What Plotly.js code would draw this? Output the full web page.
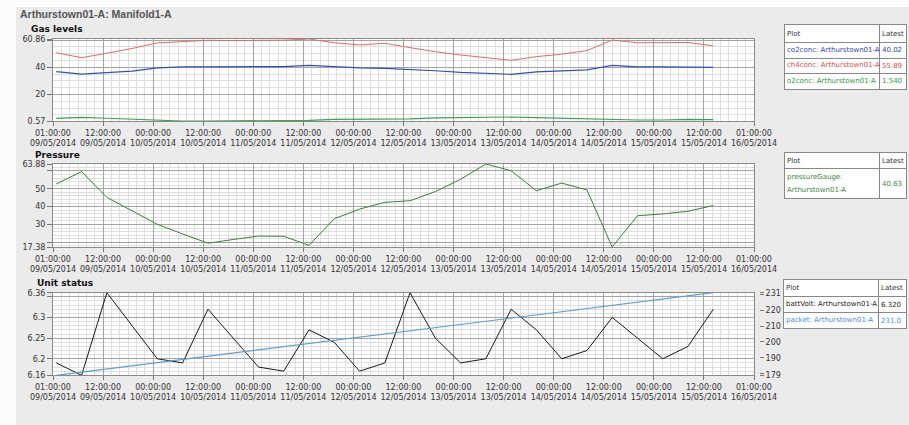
<!DOCTYPE html>
<html>
<head>
<meta charset="utf-8">
<script src="https://cdn.plot.ly/plotly-3.0.1.min.js"></script>
<style>
  html, body { margin:0; padding:0; background:#fbfbfb; }
  #bg { position:absolute; left:16px; top:7px; width:893px; height:418px; background:#ebebeb; }
  #chart { position:absolute; left:0; top:0; width:909px; height:425px; }
  table.lg { position:absolute; border-collapse:collapse; background:#fff; font-family:"DejaVu Sans"; font-size:7px; border:1px solid #333; table-layout:fixed; }
  table.lg td { border:1px solid #888; padding:0 2px; white-space:nowrap; overflow:hidden; }
  table.lg tr.hd td { color:#333; }
</style>
</head>
<body>
<div id="bg"></div>
<div id="chart"></div>
<script>
// ---------- data ----------
const times = ['2014-05-09 01:47','2014-05-09 07:51','2014-05-09 13:54','2014-05-09 19:58','2014-05-10 02:00','2014-05-10 08:04','2014-05-10 14:08','2014-05-10 20:11','2014-05-11 02:14','2014-05-11 08:17','2014-05-11 14:21','2014-05-11 20:24','2014-05-12 02:28','2014-05-12 08:32','2014-05-12 14:34','2014-05-12 20:38','2014-05-13 02:41','2014-05-13 08:44','2014-05-13 14:48','2014-05-13 20:51','2014-05-14 02:55','2014-05-14 08:58','2014-05-14 15:01','2014-05-14 21:05','2014-05-15 03:08','2014-05-15 09:11','2014-05-15 15:14'];

const co2conc = [36.8,35.1,36.1,37.3,39.7,40.4,40.4,40.4,40.4,40.6,41.5,40.3,39.6,39.3,38.5,37.5,36.3,35.5,34.9,36.7,37.3,38.1,41.5,40.4,40.3,40.2,40.02];
const ch4conc = [50.8,47.1,50.4,53.9,58.0,59.0,59.9,59.7,59.7,60.0,60.86,58.1,56.5,57.7,54.5,51.5,49.1,47.0,45.2,47.9,49.7,52.3,60.1,58.1,58.2,58.3,55.89];
const o2conc  = [2.5,3.2,2.6,1.9,0.9,0.57,0.57,0.57,0.57,0.6,1.0,1.8,1.9,2.0,2.2,2.8,3.0,3.5,3.5,3.1,2.6,2.1,1.4,1.3,1.3,1.8,1.54];
const pressureGauge = [52.7,59.6,45.2,37.4,30.1,24.7,19.5,21.6,23.5,23.4,18.3,33.2,38.6,42.4,43.3,48.4,55.3,63.88,60.1,48.9,53.2,49.3,17.38,34.9,35.9,37.4,40.63];
const battVolt = [6.19,6.16,6.36,6.28,6.20,6.19,6.32,6.25,6.18,6.17,6.27,6.24,6.17,6.19,6.36,6.25,6.19,6.20,6.32,6.27,6.20,6.22,6.30,6.25,6.20,6.23,6.32];
const packet = [179,181,183,185,187,189,191,193,195,197,199,201,203,205,207,209,211,213,215,217,219,221,223,225,227,229,231];

const xStart = '2014-05-09 01:00', xEnd = '2014-05-16 01:00';
const xTickVals = ['2014-05-09 01:00','2014-05-09 13:00','2014-05-10 01:00','2014-05-10 13:00','2014-05-11 01:00','2014-05-11 13:00','2014-05-12 01:00','2014-05-12 13:00','2014-05-13 01:00','2014-05-13 13:00','2014-05-14 01:00','2014-05-14 13:00','2014-05-15 01:00','2014-05-15 13:00','2014-05-16 01:00'];
const xTickText = ['01:00:00<br>09/05/2014','12:00:00<br>09/05/2014','00:00:00<br>10/05/2014','12:00:00<br>10/05/2014','00:00:00<br>11/05/2014','12:00:00<br>11/05/2014','00:00:00<br>12/05/2014','12:00:00<br>12/05/2014','00:00:00<br>13/05/2014','12:00:00<br>13/05/2014','00:00:00<br>14/05/2014','12:00:00<br>14/05/2014','00:00:00<br>15/05/2014','12:00:00<br>15/05/2014','01:00:00<br>16/05/2014'];

const gasTicks = [0.57,20,40,60,60.86], gasTickText = ['0.57','20','40','','60.86'];
const presTicks = [17.38,20,30,40,50,60,63.88], presTickText = ['17.38','','30','40','50','','63.88'];
const voltTicks = [6.16,6.2,6.25,6.3,6.35,6.36], voltTickText = ['6.16','6.2','6.25','6.3','','6.36'];
const pktTicks = [179,180,190,200,210,220,230,231], pktTickText = ['179','','190','200','210','220','','231'];

const title = 'Arthurstown01-A: Manifold1-A';
const panelTitles = ['Gas levels','Pressure','Unit status'];

const legends = [
  {rows:[['co2conc: Arthurstown01-A','40.02','#2a44c4'],['ch4conc: Arthurstown01-A','55.89','#e24a4a'],['o2conc: Arthurstown01-A','1.540','#2a9a45']]},
  {rows:[['pressureGauge:<br>Arthurstown01-A','40.63','#3a8a3a']]},
  {rows:[['battVolt: Arthurstown01-A','6.320','#222222'],['packet: Arthurstown01-A','231.0','#4a8fdc']]}
];

// ---------- layout ----------
const W = 909, H = 425;
const X0 = 53, X1 = 754;
const panels = [{top:39, bot:121}, {top:164, bot:247}, {top:292.7, bot:375.3}];
const tickFont = {family:'DejaVu Sans', size:8, color:'#333'};

function xax(anchor) {
  return {
    domain:[X0/W, X1/W], anchor:anchor, type:'date', range:[xStart, xEnd],
    tickmode:'array', tickvals:xTickVals, ticktext:xTickText,
    showgrid:true, gridcolor:'#a3a3a3', gridwidth:1,
    minor:{dtick:7200000, tick0:xStart, showgrid:true, gridcolor:'#dedede', gridwidth:1},
    ticks:'outside', ticklen:4, tickcolor:'#777',
    showline:true, mirror:true, linecolor:'#8a8a8a', linewidth:1,
    tickfont:tickFont, zeroline:false, fixedrange:true
  };
}
function yax(anchor, p, range, tv, tt, mdt) {
  return {
    domain:[1 - p.bot/H, 1 - p.top/H], anchor:anchor, range:range,
    tickmode:'array', tickvals:tv, ticktext:tt,
    showgrid:true, gridcolor:'#a3a3a3', gridwidth:1,
    minor:{dtick:mdt, tick0:0, showgrid:true, gridcolor:'#dedede', gridwidth:1},
    ticks:'outside', ticklen:5, tickcolor:'#777',
    showline:true, mirror:true, linecolor:'#8a8a8a', linewidth:1,
    tickfont:tickFont, zeroline:false, fixedrange:true
  };
}

const traces = [
  {x:times, y:ch4conc, xaxis:'x', yaxis:'y', mode:'lines', line:{color:'#e36a6a', width:1}, name:'ch4conc'},
  {x:times, y:co2conc, xaxis:'x', yaxis:'y', mode:'lines', line:{color:'#2f4fbf', width:1.2}, name:'co2conc'},
  {x:times, y:o2conc, xaxis:'x', yaxis:'y', mode:'lines', line:{color:'#35a552', width:1.2}, name:'o2conc'},
  {x:times, y:pressureGauge, xaxis:'x2', yaxis:'y2', mode:'lines', line:{color:'#3a7f3a', width:1}, name:'pressureGauge'},
  {x:times, y:packet, xaxis:'x3', yaxis:'y4', mode:'lines', line:{color:'#5c9ed8', width:1.2}, name:'packet'},
  {x:times, y:battVolt, xaxis:'x3', yaxis:'y3', mode:'lines', line:{color:'#1a1a1a', width:1}, name:'battVolt'}
];

const y4 = {
  overlaying:'y3', side:'right', anchor:'free', position:759/W, range:[179,231],
  tickmode:'array', tickvals:pktTicks, ticktext:pktTickText,
  showgrid:false, ticks:'outside', ticklen:4, tickcolor:'#777', showline:false,
  tickfont:tickFont, zeroline:false, fixedrange:true
};

const annots = [
  {text:'<b>' + title + '</b>', x:18/W, y:1-14/H, xref:'paper', yref:'paper', xanchor:'left', yanchor:'middle', showarrow:false, font:{family:'Liberation Sans', size:10.5, color:'#555'}},
  {text:'<b>' + panelTitles[0] + '</b>', x:29/W, y:1-29/H, xref:'paper', yref:'paper', xanchor:'left', yanchor:'middle', showarrow:false, font:{family:'DejaVu Sans', size:9, color:'#111'}},
  {text:'<b>' + panelTitles[1] + '</b>', x:33/W, y:1-154.5/H, xref:'paper', yref:'paper', xanchor:'left', yanchor:'middle', showarrow:false, font:{family:'DejaVu Sans', size:9, color:'#111'}},
  {text:'<b>' + panelTitles[2] + '</b>', x:35/W, y:1-282.5/H, xref:'paper', yref:'paper', xanchor:'left', yanchor:'middle', showarrow:false, font:{family:'DejaVu Sans', size:9, color:'#111'}}
];

const layout = {
  width:W, height:H, margin:{l:0, r:0, t:0, b:0},
  paper_bgcolor:'rgba(0,0,0,0)', plot_bgcolor:'#ffffff',
  showlegend:false, hovermode:false,
  xaxis:xax('y'), xaxis2:xax('y2'), xaxis3:xax('y3'),
  yaxis:yax('x', panels[0], [0.57,60.86], gasTicks, gasTickText, 5),
  yaxis2:yax('x2', panels[1], [17.38,63.88], presTicks, presTickText, 2),
  yaxis3:yax('x3', panels[2], [6.16,6.36], voltTicks, voltTickText, 0.01),
  yaxis4:y4,
  annotations:annots
};

Plotly.newPlot('chart', traces, layout, {staticPlot:true, displayModeBar:false});

// ---------- legend tables ----------
const boxes = [
  {left:784, top:24, w:123, hdr:18, row:15.5, c1:95},
  {left:784, top:152, w:123, hdr:16, row:30, c1:95},
  {left:783, top:279, w:124, hdr:17, row:16, c1:95}
];
legends.forEach((lg, i) => {
  const b = boxes[i];
  const t = document.createElement('table');
  t.className = 'lg';
  t.style.left = b.left + 'px'; t.style.top = b.top + 'px'; t.style.width = b.w + 'px';
  let html = '<colgroup><col style="width:' + b.c1 + 'px"><col></colgroup>';
  html += '<tr class="hd" style="height:' + b.hdr + 'px"><td>Plot</td><td>Latest</td></tr>';
  lg.rows.forEach(r => {
    html += '<tr style="height:' + b.row + 'px;color:' + r[2] + '"><td style="line-height:13px">' + r[0] + '</td><td>' + r[1] + '</td></tr>';
  });
  t.innerHTML = html;
  document.body.appendChild(t);
});
</script>
</body>
</html>
